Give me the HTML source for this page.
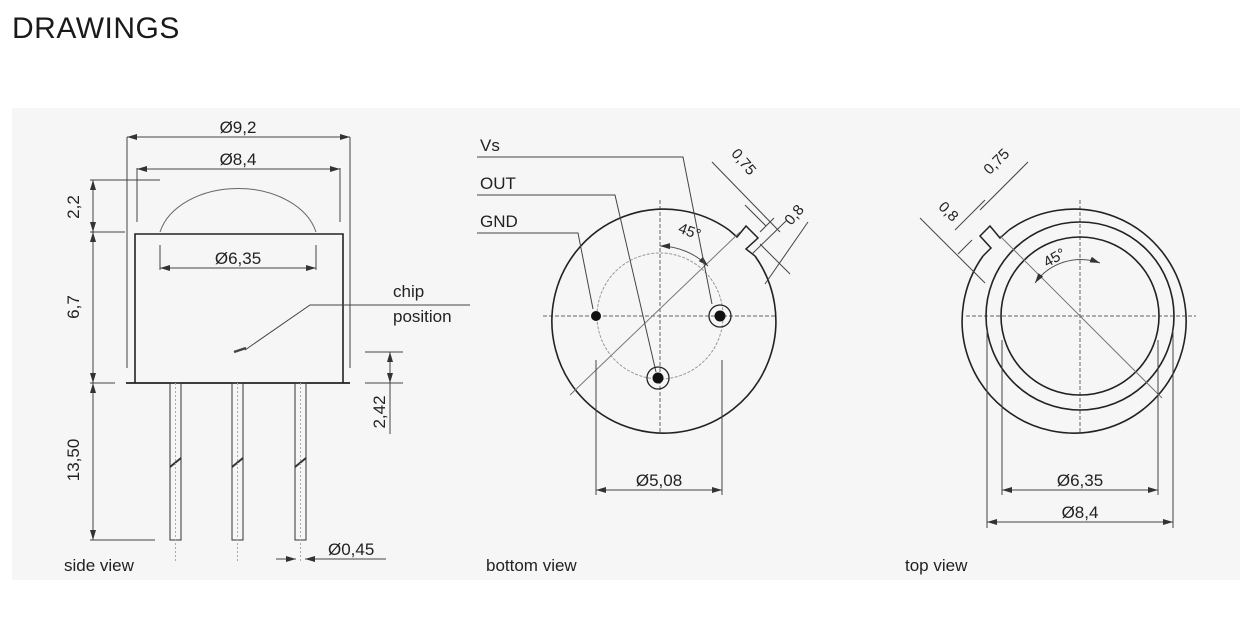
<!DOCTYPE html>
<html><head><meta charset="utf-8"><style>
html,body{margin:0;padding:0;background:#fff;width:1251px;height:634px;overflow:hidden}
svg{display:block}
text{font-family:"Liberation Sans",Arial,sans-serif;fill:#222}
</style></head><body>
<svg width="1251" height="634" viewBox="0 0 1251 634" xmlns="http://www.w3.org/2000/svg">
<defs>
<marker id="a" viewBox="0 0 10 6" refX="10" refY="3" markerWidth="10" markerHeight="6" orient="auto-start-reverse" markerUnits="userSpaceOnUse"><path d="M0,0L10,3L0,6z" fill="#333"/></marker>
</defs>
<text x="12" y="38" font-size="30" style="fill:#1a1a1a;letter-spacing:0.5px">DRAWINGS</text>
<rect x="12" y="108" width="1228" height="472" fill="#f6f6f6"/>
<g stroke="#444" stroke-width="1" fill="none">
<!-- side view -->
<line x1="127" y1="137" x2="127" y2="368"/><line x1="350" y1="137" x2="350" y2="368"/>
<line x1="127" y1="137" x2="350" y2="137" marker-start="url(#a)" marker-end="url(#a)"/>
<line x1="137" y1="168" x2="137" y2="222"/><line x1="340" y1="168" x2="340" y2="222"/>
<line x1="137" y1="169" x2="340" y2="169" marker-start="url(#a)" marker-end="url(#a)"/>
<path d="M160,232 A80,56 0 0 1 316,232" stroke="#666"/>
<path d="M135,383 L135,234 L343,234 L343,383" stroke="#222" stroke-width="1.6"/>
<line x1="126" y1="383" x2="350" y2="383" stroke="#222" stroke-width="1.8"/>
<line x1="160" y1="245" x2="160" y2="270"/><line x1="316" y1="245" x2="316" y2="270"/>
<line x1="160" y1="268" x2="316" y2="268" marker-start="url(#a)" marker-end="url(#a)"/>
<line x1="90" y1="180" x2="160" y2="180"/><line x1="90" y1="232" x2="125" y2="232"/>
<line x1="90" y1="383" x2="115" y2="383"/><line x1="90" y1="540" x2="155" y2="540"/>
<line x1="93" y1="180" x2="93" y2="232" marker-start="url(#a)" marker-end="url(#a)"/>
<line x1="93" y1="232" x2="93" y2="383" marker-start="url(#a)" marker-end="url(#a)"/>
<line x1="93" y1="383" x2="93" y2="540" marker-start="url(#a)" marker-end="url(#a)"/>
<line x1="365" y1="352" x2="403" y2="352"/><line x1="365" y1="383" x2="403" y2="383"/>
<line x1="390" y1="352" x2="390" y2="434"/>
<line x1="390" y1="352" x2="390" y2="383" marker-start="url(#a)" marker-end="url(#a)"/>
<path d="M470,305 L310,305 L245,350"/>
<path d="M234,352 L246,348" stroke-width="2.5"/>
<g stroke="#333">
<rect x="170" y="383" width="11" height="157"/><rect x="232" y="383" width="11" height="157"/><rect x="295" y="383" width="11" height="157"/>
<path d="M170,467 L181,458 M232,467 L243,458 M295,467 L306,458" stroke-width="2"/>
</g>
<g stroke="#aaa" stroke-dasharray="2,2"><line x1="175.5" y1="383" x2="175.5" y2="562"/><line x1="237.5" y1="383" x2="237.5" y2="562"/><line x1="300.5" y1="383" x2="300.5" y2="562"/></g>
<line x1="276" y1="559" x2="296" y2="559" marker-end="url(#a)"/><line x1="386" y1="559" x2="305" y2="559" marker-end="url(#a)"/>
<!-- bottom view -->
<g stroke="#666" stroke-dasharray="4,2"><line x1="543" y1="316" x2="775" y2="316"/><line x1="660" y1="200" x2="660" y2="432"/></g>
<circle cx="660" cy="316" r="63" stroke="#999" stroke-dasharray="3,1.5"/>
<path d="M729,230 A112,112 0 1 0 755,256" stroke="#222" stroke-width="1.6"/>
<path d="M729,230 L737,237 L746,226 L758,238 L746,249 L755,256" stroke="#222" stroke-width="1.5"/>
<line x1="570" y1="395" x2="740" y2="232" stroke="#777"/>
<path d="M660,246 A70,70 0 0 1 708,266" stroke="#555" marker-start="url(#a)" marker-end="url(#a)"/>
<line x1="712" y1="162" x2="780" y2="232"/><line x1="760" y1="244" x2="790" y2="274"/>
<line x1="745" y1="205" x2="766" y2="226"/><line x1="787" y1="220" x2="752" y2="254"/>
<line x1="774" y1="218" x2="760" y2="232"/><line x1="808" y1="222" x2="765" y2="284"/>
<path d="M477,157 L683,157 L712,304"/><path d="M477,195 L615,195 L656,372"/><path d="M477,233 L578,233 L593,309"/>
<circle cx="596" cy="316" r="5" fill="#111" stroke="none"/>
<circle cx="720" cy="316" r="5.5" fill="#111" stroke="none"/><circle cx="720" cy="316" r="11" stroke="#222" stroke-width="1.3"/>
<circle cx="658" cy="378" r="5.5" fill="#111" stroke="none"/><circle cx="658" cy="378" r="11" stroke="#222" stroke-width="1.3"/>
<line x1="596" y1="360" x2="596" y2="495"/><line x1="722" y1="360" x2="722" y2="495"/>
<line x1="596" y1="490" x2="722" y2="490" marker-start="url(#a)" marker-end="url(#a)"/>
<!-- top view -->
<g stroke="#666" stroke-dasharray="4,2"><line x1="966" y1="316" x2="1196" y2="316"/><line x1="1080" y1="200" x2="1080" y2="432"/></g>
<path d="M1009,230 A112,112 0 1 1 983,256" stroke="#222" stroke-width="1.6"/>
<path d="M1009,230 L1000,238 L990,226 L980,236 L991,248 L983,256" stroke="#222" stroke-width="1.5"/>
<circle cx="1080" cy="316" r="94" stroke="#222" stroke-width="1.6"/>
<circle cx="1080" cy="316" r="79" stroke="#222" stroke-width="1.6"/>
<line x1="1000" y1="236" x2="1162" y2="398" stroke="#777"/>
<path d="M1100,263 A56,56 0 0 0 1035,283" stroke="#555" marker-start="url(#a)" marker-end="url(#a)"/>
<line x1="1028" y1="162" x2="980" y2="210"/><line x1="920" y1="218" x2="985" y2="283"/>
<line x1="985" y1="200" x2="955" y2="230"/><line x1="972" y1="240" x2="958" y2="254"/>
<line x1="987" y1="330" x2="987" y2="528"/><line x1="1173" y1="330" x2="1173" y2="528"/>
<line x1="1002" y1="340" x2="1002" y2="495"/><line x1="1158" y1="340" x2="1158" y2="495"/>
<line x1="1002" y1="490" x2="1158" y2="490" marker-start="url(#a)" marker-end="url(#a)"/>
<line x1="987" y1="522" x2="1173" y2="522" marker-start="url(#a)" marker-end="url(#a)"/>
</g>
<g font-size="17">
<text x="238" y="133" text-anchor="middle">Ø9,2</text>
<text x="238" y="165" text-anchor="middle">Ø8,4</text>
<text x="238" y="264" text-anchor="middle">Ø6,35</text>
<text transform="translate(79,207) rotate(-90)" text-anchor="middle">2,2</text>
<text transform="translate(79,307) rotate(-90)" text-anchor="middle">6,7</text>
<text transform="translate(79,460) rotate(-90)" text-anchor="middle">13,50</text>
<text transform="translate(385,412) rotate(-90)" text-anchor="middle">2,42</text>
<text x="393" y="297">chip</text><text x="393" y="322">position</text>
<text x="328" y="555">Ø0,45</text>
<text x="64" y="571">side view</text>
<text x="480" y="151">Vs</text><text x="480" y="189">OUT</text><text x="480" y="227">GND</text>
<text transform="translate(688,236) rotate(20)" text-anchor="middle" font-size="15">45°</text>
<text transform="translate(740,165) rotate(50)" text-anchor="middle" font-size="15">0,75</text>
<text transform="translate(798,218) rotate(-50)" text-anchor="middle" font-size="15">0,8</text>
<text x="659" y="486" text-anchor="middle">Ø5,08</text>
<text x="486" y="571">bottom view</text>
<text transform="translate(1000,165) rotate(-45)" text-anchor="middle" font-size="15">0,75</text>
<text transform="translate(945,215) rotate(45)" text-anchor="middle" font-size="15">0,8</text>
<text transform="translate(1057,262) rotate(-30)" text-anchor="middle" font-size="15">45°</text>
<text x="1080" y="486" text-anchor="middle">Ø6,35</text>
<text x="1080" y="518" text-anchor="middle">Ø8,4</text>
<text x="905" y="571">top view</text>
</g>
</svg>
</body></html>
